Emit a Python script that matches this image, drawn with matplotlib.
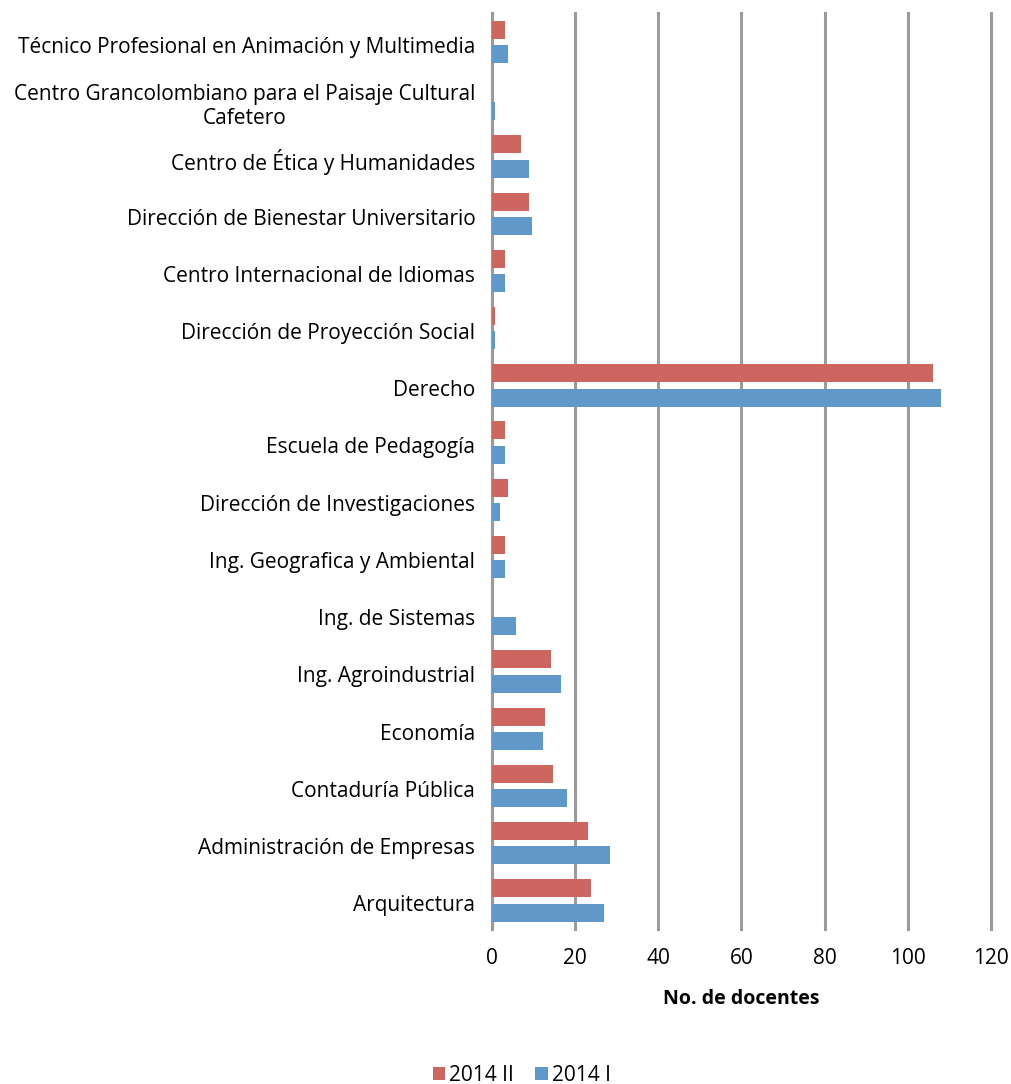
import matplotlib
matplotlib.use("Agg")
import matplotlib.pyplot as plt
import numpy as np

plt.rcParams['font.family'] = ['Open Sans', 'DejaVu Sans']

# categories listed bottom -> top
categories = [
    "Arquitectura",
    "Administración de Empresas",
    "Contaduría Pública",
    "Economía",
    "Ing. Agroindustrial",
    "Ing. de Sistemas",
    "Ing. Geografica y Ambiental",
    "Dirección de Investigaciones",
    "Escuela de Pedagogía",
    "Derecho",
    "Dirección de Proyección Social",
    "Centro Internacional de Idiomas",
    "Dirección de Bienestar Universitario",
    "Centro de Ética y Humanidades",
    "Centro Grancolombiano para el Paisaje Cultural\nCafetero",
    "Técnico Profesional en Animación y Multimedia",
]
docentes_2014_ii = [23.8, 23.1, 14.8, 12.8, 14.1, 0, 3.2, 3.9, 3.2, 106, 0.8, 3.2, 9.0, 7.0, 0, 3.2]
docentes_2014_i = [27.0, 28.3, 18.0, 12.2, 16.7, 5.8, 3.2, 1.9, 3.2, 108, 0.8, 3.2, 9.6, 9.0, 0.8, 3.9]
xticks = [0, 20, 40, 60, 80, 100, 120]

red = '#CD6661'
blue = '#6198CA'
grid_grey = '#9B9B9B'

fig = plt.figure(figsize=(10.11, 10.84), dpi=100)
ax = fig.add_axes([0.4866, 0.143, 0.4936, 0.8446])

y = np.arange(len(categories))
h = 0.315
ax.barh(y + 0.213, docentes_2014_ii, height=h, color=red, label='2014 II', zorder=3)
ax.barh(y - 0.213, docentes_2014_i, height=h, color=blue, label='2014 I', zorder=3)

ax.set_xlim(0, 120)
ax.set_ylim(-0.5, len(categories) - 0.5)
ax.set_xticks(xticks)
ax.set_xticklabels([str(t) for t in xticks], fontsize=15)
ax.set_yticks(y - 0.05)
ax.set_yticklabels(categories, fontsize=15, multialignment='center')
ax.tick_params(axis='y', length=0, pad=12)
ax.tick_params(axis='x', length=0, pad=14)

ax.grid(axis='x', color=grid_grey, linewidth=2.2, zorder=0)
for gl in ax.get_xgridlines():
    gl.set_clip_on(False)
for side in ['top', 'right', 'bottom']:
    ax.spines[side].set_visible(False)
ax.spines['left'].set_color(grid_grey)
ax.spines['left'].set_linewidth(2.2)
ax.spines['left'].set_zorder(2)

ax.set_xlabel('No. de docentes', fontsize=14, fontweight='bold', labelpad=14)

handles, labels = ax.get_legend_handles_labels()
fig.legend(handles, labels, loc='center', bbox_to_anchor=(0.516, 0.008), ncol=2,
           frameon=False, fontsize=15, handlelength=0.6, handleheight=0.6,
           handletextpad=0.2, columnspacing=1.0)

fig.savefig('out.png', dpi=100)
